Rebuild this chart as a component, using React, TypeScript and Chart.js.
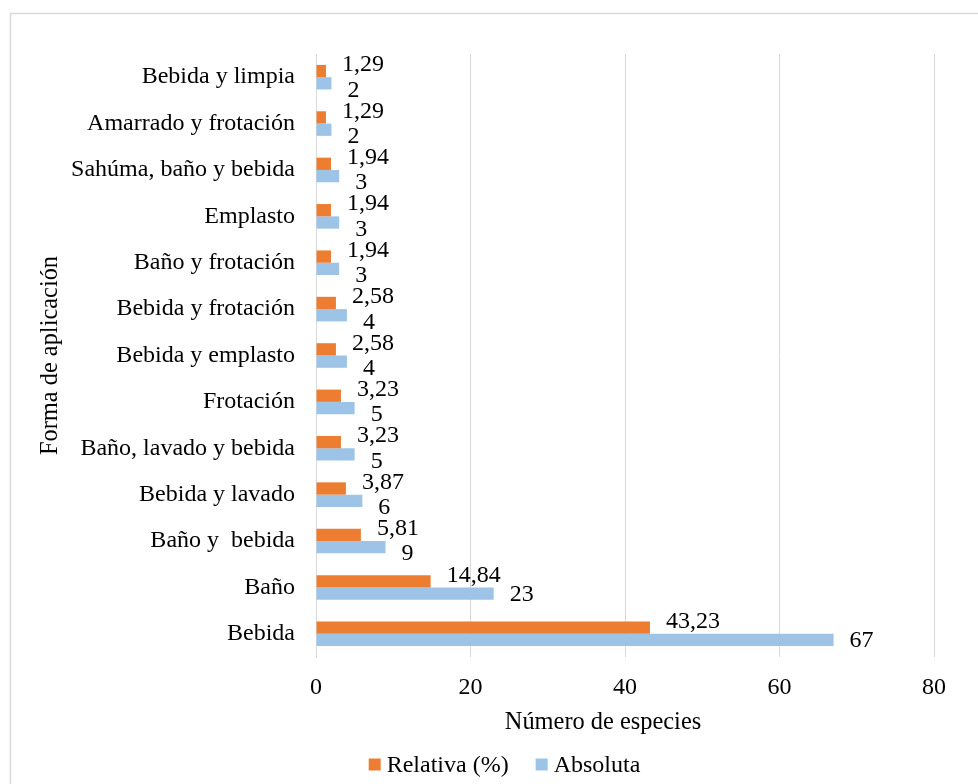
import React, { useEffect, useRef } from "react";
import { Chart, registerables } from "chart.js";

Chart.register(...registerables);

const categories = [
  "Bebida y limpia",
  "Amarrado y frotación",
  "Sahúma, baño y bebida",
  "Emplasto",
  "Baño y frotación",
  "Bebida y frotación",
  "Bebida y emplasto",
  "Frotación",
  "Baño, lavado y bebida",
  "Bebida y lavado",
  "Baño y  bebida",
  "Baño",
  "Bebida",
];
const relativa = [1.29, 1.29, 1.94, 1.94, 1.94, 2.58, 2.58, 3.23, 3.23, 3.87, 5.81, 14.84, 43.23];
const absoluta = [2, 2, 3, 3, 3, 4, 4, 5, 5, 6, 9, 23, 67];
const xTicks = [0, 20, 40, 60, 80];
const seriesNames = ["Relativa (%)", "Absoluta"];
const seriesColors = ["#ED7D31", "#9DC3E6"];
const xTitle = "Número de especies";
const yTitle = "Forma de aplicación";

const FONT_FAMILY = '"Liberation Serif", "Times New Roman", serif';
const FS = 24;
const FS_TITLE = 24.4;
const TEXT = "#000000";
const GRID = "#d9d9d9";

function fmt(v: number, ds: number): string {
  return ds === 0 ? v.toFixed(2).replace(".", ",") : String(v);
}

const customPlugin = {
  id: "customDraw",
  beforeDraw(chart: any) {
    const ctx = chart.ctx;
    ctx.save();
    ctx.fillStyle = "#ffffff";
    ctx.fillRect(0, 0, chart.width, chart.height);
    ctx.strokeStyle = "#d9d9d9";
    ctx.lineWidth = 1.5;
    ctx.strokeRect(10.5, 13.5, chart.width + 20, chart.height + 20);
    ctx.restore();
  },
  afterDatasetsDraw(chart: any) {
    const ctx = chart.ctx;
    ctx.save();
    ctx.font = `${FS}px ${FONT_FAMILY}`;
    ctx.fillStyle = TEXT;
    ctx.textAlign = "left";
    ctx.textBaseline = "middle";
    const m0 = chart.getDatasetMeta(0);
    const m1 = chart.getDatasetMeta(1);
    for (let i = 0; i < categories.length; i++) {
      const e0 = m0.data[i];
      const e1 = m1.data[i];
      const t0 = fmt(relativa[i], 0);
      const t1 = fmt(absoluta[i], 1);
      const x0 = e0.x + 16;
      const x1 = e1.x + 16;
      const w0 = ctx.measureText(t0).width;
      const overlap = x1 < x0 + w0;
      ctx.fillText(t0, x0, e0.y - 6);
      ctx.fillText(t1, x1, e1.y + (overlap ? 7 : 1));
    }
    ctx.restore();
  },
  afterDraw(chart: any) {
    const ctx = chart.ctx;
    ctx.save();
    ctx.font = `${FS_TITLE}px ${FONT_FAMILY}`;
    ctx.fillStyle = TEXT;
    // x axis title
    ctx.textAlign = "center";
    ctx.textBaseline = "alphabetic";
    ctx.fillText(xTitle, 603, 728.5);
    // legend
    ctx.font = `${FS}px ${FONT_FAMILY}`;
    const box = 12;
    const gapBoxText = 6;
    const gapItems = 27;
    const widths = seriesNames.map((n) => ctx.measureText(n).width);
    let total = 0;
    widths.forEach((w, i) => {
      total += box + gapBoxText + w + (i < widths.length - 1 ? gapItems : 0);
    });
    let x = 504.5 - total / 2;
    const baseline = 771.5;
    ctx.textAlign = "left";
    seriesNames.forEach((n, i) => {
      ctx.fillStyle = seriesColors[i];
      ctx.fillRect(x, 758.5, box, box);
      x += box + gapBoxText;
      ctx.fillStyle = TEXT;
      ctx.fillText(n, x, baseline);
      x += widths[i] + gapItems;
    });
    ctx.restore();
  },
};

export default function App() {
  const canvasRef = useRef<HTMLCanvasElement | null>(null);

  useEffect(() => {
    const canvas = canvasRef.current;
    if (!canvas) return;
    const font = { family: FONT_FAMILY, size: FS };
    const chart = new Chart(canvas, {
      type: "bar",
      data: {
        labels: categories,
        datasets: [
          {
            label: seriesNames[0],
            data: relativa,
            backgroundColor: seriesColors[0],
            categoryPercentage: 0.53,
            barPercentage: 1.0,
          },
          {
            label: seriesNames[1],
            data: absoluta,
            backgroundColor: seriesColors[1],
            categoryPercentage: 0.53,
            barPercentage: 1.0,
          },
        ],
      },
      options: {
        indexAxis: "y",
        animation: false,
        responsive: false,
        devicePixelRatio: 1,
        layout: { padding: { left: 0, top: 54, right: 44, bottom: 0 } },
        scales: {
          x: {
            min: 0,
            max: 80,
            afterBuildTicks: (scale: any) => {
              scale.ticks = xTicks.map((v) => ({ value: v }));
            },
            ticks: { font, color: TEXT, padding: 16 },
            grid: { color: GRID, drawTicks: false, lineWidth: 1 },
            border: { display: false },
            afterFit: (scale: any) => {
              scale.height = 127;
            },
          },
          y: {
            ticks: { font, color: TEXT, padding: 21 },
            grid: { display: false, drawTicks: false },
            border: { display: true, color: GRID, width: 1 },
            title: {
              display: true,
              text: yTitle,
              font: { family: FONT_FAMILY, size: FS_TITLE },
              color: TEXT,
              padding: { top: 36, bottom: 0 },
            },
            afterFit: (scale: any) => {
              scale.width = 316;
            },
          },
        },
        plugins: {
          legend: { display: false },
          tooltip: { enabled: false },
        },
      },
      plugins: [customPlugin],
    } as any);
    return () => {
      chart.destroy();
    };
  }, []);

  return (
    <div style={{ position: "fixed", left: 0, top: 0, width: 978, height: 784, background: "#fff" }}>
      <canvas ref={canvasRef} width={978} height={784} style={{ display: "block" }} />
    </div>
  );
}
